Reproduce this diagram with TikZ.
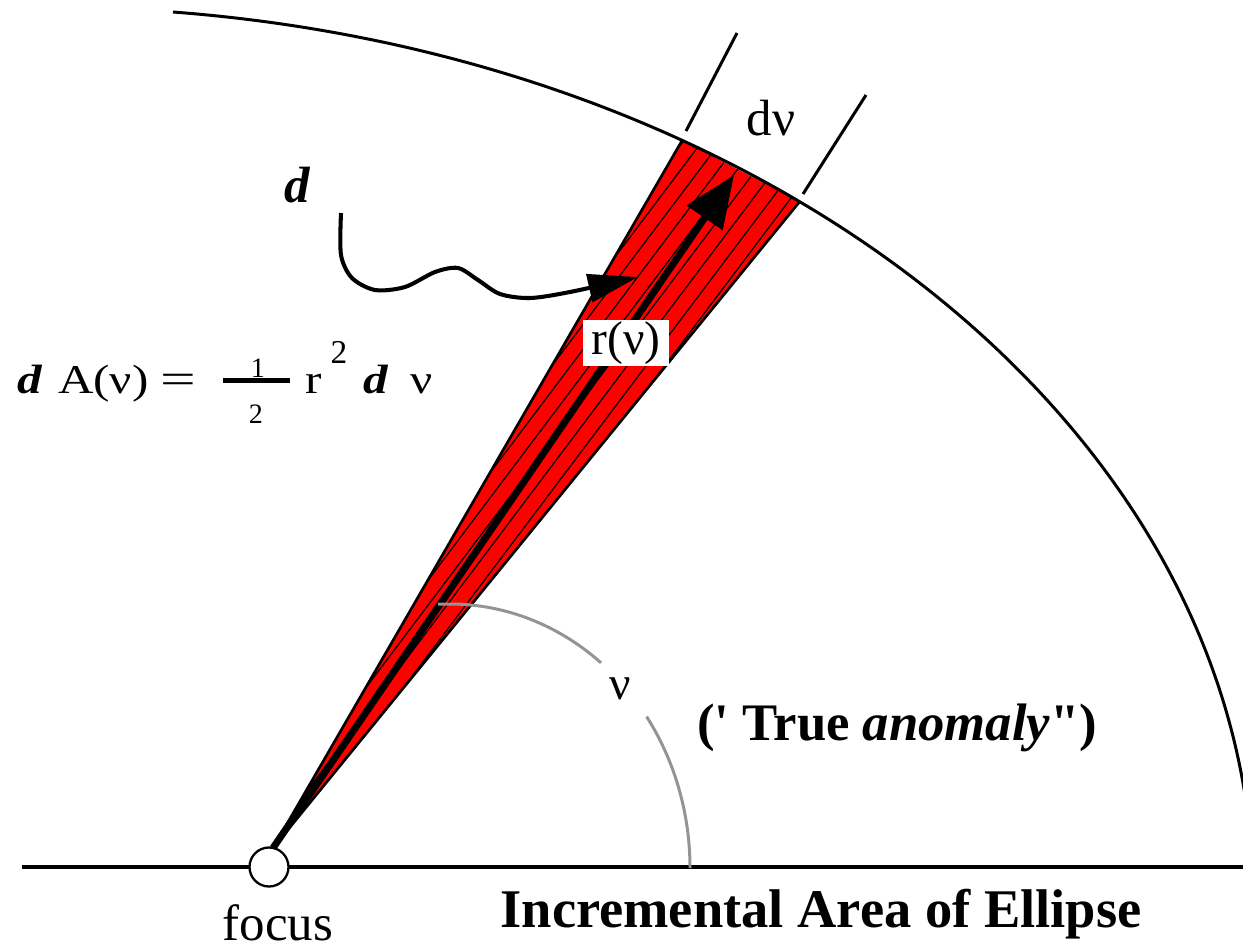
\documentclass[tikz,border=0pt]{standalone}
\usepackage{fontspec}
\setmainfont{Liberation Serif}
\newfontfamily\qfont{Liberation Serif}
\newfontfamily\wideserif{Liberation Serif}[FakeStretch=1.2]
\newfontfamily\widerserif{Liberation Serif}[FakeStretch=1.5]
\usetikzlibrary{arrows.meta}
\newcommand{\fsz}[1]{\fontsize{#1}{#1}\selectfont}
\begin{document}
\begin{tikzpicture}[x=0.02cm, y=-0.02cm,
  txt/.style={inner sep=0pt, outer sep=0pt},
  orbit/.style={line width=1.7pt, black},
  axisline/.style={line width=2pt, black},
  wedgeedge/.style={line width=1.5pt, black, line join=round},
  hatch/.style={line width=0.7pt, black},
  tickline/.style={line width=1.7pt, black},
  anglearc/.style={line width=1.7pt, black!42},
  radius/.style={line width=4pt, black, -{Triangle[length=1.04cm, width=0.84cm]}},
  wavy/.style={line width=2.3pt, black, -{Triangle[length=1.0cm, width=0.56cm]}},
  formula/.style={txt, anchor=base west, font=\wideserif\fsz{23.3}},
  formulad/.style={txt, anchor=base west, font=\wideserif\bfseries\itshape\fsz{23.3}},
  ]
\useasboundingbox (0,0) rectangle (1243,950);

% key points (wedge corners lie on the orbit ellipse: centre (50,900), radii 1203.4 x 892.7)
\coordinate (apex) at (273,848);
\coordinate (L) at (682.1,140.4);
\coordinate (R) at (799.7,201.6);
\coordinate (tip) at (734,175);

% red wedge with hatching
\fill[red] (apex) -- (L) -- (R) -- cycle;
\begin{scope}
  \clip (apex) -- (L) -- (R) -- cycle;
  \foreach \f in {112,130.8,...,330} {
    \draw[hatch] (\f,900) -- ++(723,-960);
  }
\end{scope}
\draw[wedgeedge] (L) -- (apex) -- (R);

% orbit arc
\coordinate (orbstart) at (173,12);
\draw[orbit] (orbstart) arc[start angle=-84.13, end angle=-6, x radius=1203.4, y radius=892.7];

% baseline
\coordinate (bl) at (22,867);
\coordinate (br) at (1243,867);
\draw[axisline] (bl) -- (br);

% d-nu tick lines
\coordinate (t1a) at (686,131);
\coordinate (t1b) at (737,33);
\coordinate (t2a) at (803,194);
\coordinate (t2b) at (866,95);
\draw[tickline] (t1a) -- (t1b);
\draw[tickline] (t2a) -- (t2b);

% radius vector
\draw[radius] (apex) -- (tip);

% angle arc (true anomaly)
\draw[anglearc] (438,604) -- (450,604) arc[start angle=-90, end angle=-51, x radius=240, y radius=264];
\draw[anglearc] (646.6,716.6) arc[start angle=-35, end angle=0, x radius=240, y radius=264];

% focus
\node[circle, draw, line width=1.3pt, fill=white, minimum size=0.78cm, inner sep=0pt] (focus) at (269,867) {};

% labels
\node[txt, fill=white, minimum width=1.72cm, minimum height=0.92cm, font=\fsz{27}] (rlab) at (626,343) {r(ν)};
\node[txt, font=\fsz{27}] (nu) at (620,689) {ν};
\node[txt, anchor=base, font=\fsz{29}] (dnu) at (771,135) {dν};
\node[txt, anchor=base, font=\bfseries\itshape\fsz{29}] (dlab) at (297,202) {d};
\node[txt, anchor=base west, font=\qfont\bfseries\fsz{30}] (anom) at (697,740) {(' True \textit{anomaly}")};
\node[txt, anchor=base, font=\bfseries\fsz{31}] (title) at (821,927) {Incremental Area of Ellipse};
\node[txt, anchor=base, font=\fsz{29}] (focuslab) at (278,940) {focus};

% wavy arrow
\coordinate (ws) at (341,213);
\coordinate (we) at (638,277);
\draw[wavy] plot[smooth, tension=0.5] coordinates {(ws) (341,255) (352,278) (375,290) (405,287) (435,272) (458,268) (478,280) (500,294) (530,298) (570,292) (we)};

% formula
\node[formulad] (fd) at (17,393) {d};
\node[formula] (fA) at (58,393) {A(ν)};
\node[txt, anchor=base west, font=\widerserif\fsz{24}] (feq) at (160,393) {=};
\coordinate (fbl) at (223,380.5);
\coordinate (fbr) at (290,380.5);
\draw[line width=2.6pt] (fbl) -- (fbr);
\node[txt, font=\fsz{16}] (fone) at (258,368) {1};
\node[txt, font=\fsz{16}] (ftwo) at (256,414) {2};
\node[formula] (fr) at (305,393) {r};
\node[txt, font=\fsz{19}] (fsq) at (339,352) {2};
\node[formulad] (fd2) at (363,393) {d};
\node[formula] (fnu) at (410,393) {ν};
\end{tikzpicture}
\end{document}
